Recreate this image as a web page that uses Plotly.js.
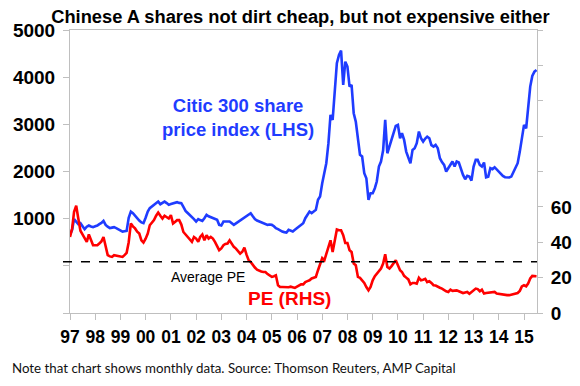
<!DOCTYPE html>
<html>
<head>
<meta charset="utf-8">
<script src="https://cdn.plot.ly/plotly-3.0.1.min.js"></script>
<style>html,body{margin:0;padding:0;background:#fff;}#chart{width:580px;height:386px;}</style>
</head>
<body>
<div id="chart"></div>
<script>
// Monthly data, Jan 1997 - Jul 2015
const startYear = 1997;
const citic300 = [
  657, 763, 990, 930, 884, 905, 840, 778, 830, 854, 835, 820,          // 1997
  840, 854, 884, 910, 954, 869, 830, 799, 810, 820, 800, 778,          // 1998
  760, 727, 735, 742, 1020, 1151, 1116, 1060, 1010, 960, 920, 905,     // 1999
  1020, 1151, 1222, 1260, 1293, 1330, 1362, 1307, 1330, 1362, 1330, 1293, // 2000
  1310, 1329, 1340, 1350, 1335, 1329, 1250, 1165, 1120, 1081, 1045, 990,  // 2001
  939, 990, 970, 954, 1010, 1081, 1050, 1030, 1010, 990, 975, 869,     // 2002
  854, 939, 945, 940, 939, 900, 869, 900, 930, 960, 990, 1020,         // 2003
  1045, 1080, 1116, 1050, 990, 960, 939, 920, 905, 885, 869, 875,      // 2004
  869, 840, 799, 780, 750, 727, 715, 706, 763, 740, 727, 763,          // 2005
  800, 833, 870, 905, 1010, 1080, 1151, 1116, 1150, 1187, 1399, 1469,  // 2006
  1752, 1964, 2176, 2600, 3200, 3094, 3729, 4295, 4471, 4562, 3835, 4329, // 2007
  4223, 3800, 3835, 3236, 3058, 2740, 2352, 2317, 1964, 1858, 1399, 1540, // 2008
  1540, 1646, 1787, 2105, 2211, 2450, 3094, 2387, 2528, 2700, 2846, 2966, // 2009
  2988, 2706, 2811, 2670, 2422, 2300, 2176, 2458, 2494, 2599, 2846, 2706, // 2010
  2635, 2700, 2740, 2706, 2560, 2528, 2564, 2494, 2282, 2200, 2140, 1999, // 2011
  2080, 2150, 2211, 2105, 2211, 2190, 2034, 1928, 1837, 1907, 1892, 1807, // 2012
  2105, 2246, 2246, 2140, 2105, 2190, 1879, 1892, 2070, 2049, 2091, 2040, // 2013
  1999, 1950, 1907, 1879, 1875, 1872, 1892, 1999, 2070, 2176, 2422, 2670, // 2014
  2988, 2917, 3400, 3800, 4026, 4117, 4153                              // 2015
];
const peRatio = [
  43.0, 47.8, 57.2, 60.6, 53.4, 46.5, 44.4, 42.0, 40.2, 44.4, 41.1, 38.3, // 1997
  38.3, 38.3, 39.3, 40.5, 43.0, 37.4, 32.7, 32.0, 31.7, 32.7, 32.5, 32.2, // 1998
  31.9, 31.7, 32.7, 34.0, 40.0, 50.6, 49.0, 47.8, 46.0, 44.9, 41.1, 39.8, // 1999
  42.0, 44.9, 49.6, 51.0, 52.5, 55.0, 56.8, 55.0, 53.4, 55.0, 54.0, 53.4, // 2000
  55.3, 50.6, 51.5, 52.5, 52.5, 50.0, 45.8, 44.4, 43.0, 42.1, 40.2, 43.0, // 2001
  42.1, 40.2, 43.0, 44.4, 41.1, 44.0, 42.1, 43.0, 42.1, 40.2, 37.4, 35.5, // 2002
  36.5, 38.3, 39.0, 39.3, 41.1, 39.0, 37.4, 36.4, 35.0, 33.6, 34.6, 37.0, // 2003
  33.0, 29.8, 28.9, 27.0, 25.7, 24.5, 23.8, 23.5, 23.2, 23.2, 22.0, 21.3, // 2004
  20.4, 20.8, 21.3, 15.7, 14.7, 14.7, 14.6, 14.4, 14.6, 14.9, 14.5, 14.2, // 2005
  14.9, 15.5, 16.2, 16.2, 17.5, 18.0, 18.5, 19.5, 20.0, 20.4, 24.2, 28.0, // 2006
  31.0, 29.8, 33.6, 38.0, 41.1, 34.5, 41.1, 47.2, 46.8, 46.8, 44.0, 39.6, // 2007
  39.6, 35.5, 34.5, 28.0, 27.0, 20.4, 19.9, 18.5, 17.0, 14.7, 12.8, 14.7, // 2008
  18.5, 20.8, 22.0, 23.2, 25.1, 28.0, 33.2, 26.0, 25.1, 26.5, 28.0, 29.8, // 2009
  27.0, 24.2, 23.2, 21.0, 20.0, 19.0, 16.2, 17.0, 17.0, 16.6, 19.9, 18.5, // 2010
  18.8, 19.3, 17.5, 18.0, 17.0, 15.7, 15.5, 15.1, 14.3, 13.8, 12.8, 12.3, // 2011
  11.9, 13.2, 12.5, 12.5, 12.8, 12.3, 11.9, 11.3, 11.6, 11.9, 10.9, 11.8, // 2012
  12.8, 13.8, 13.5, 12.3, 13.2, 11.0, 11.3, 11.5, 11.3, 11.6, 11.9, 11.0, // 2013
  10.8, 10.4, 10.2, 10.1, 10.1, 10.1, 10.4, 10.7, 11.0, 11.3, 12.5, 15.0, // 2014
  15.7, 15.1, 16.6, 19.5, 21.0, 21.0, 20.8                                // 2015
];
const averagePE = 29;
const leftTickVals = [-1000, 0, 1000, 2000, 3000, 4000, 5000];
const leftTickText = ['', '', '1000', '2000', '3000', '4000', '5000'];
const rightTickVals = [0, 20, 40, 60, 80, 100, 120, 140, 160];
const rightTickText = ['0', '20', '40', '60', '', '', '', '', ''];

const months = citic300.map((_, i) => {
  const y = startYear + Math.floor(i / 12);
  const m = (i % 12) + 1;
  return y + '-' + (m < 10 ? '0' + m : m) + '-01';
});

const BLUE = '#1f3cff';
const RED = '#ff0000';
const AXIS = '#bfbfbf';
const FONT = 'Liberation Sans, Arial, sans-serif';

const traces = [
  {x: months, y: citic300, type: 'scatter', mode: 'lines', yaxis: 'y',
   line: {color: BLUE, width: 2.6}, hoverinfo: 'skip'},
  {x: months, y: peRatio, type: 'scatter', mode: 'lines', yaxis: 'y2',
   line: {color: RED, width: 2.6}, hoverinfo: 'skip'}
];

const layout = {
  width: 580, height: 386,
  margin: {l: 70, r: 43, t: 30, b: 73},
  paper_bgcolor: '#fff', plot_bgcolor: '#fff',
  showlegend: false,
  title: {text: 'Chinese A shares not dirt cheap, but not expensive either',
          x: 0.518, xanchor: 'center', y: 0.957, yanchor: 'middle', yref: 'container', xref: 'container',
          font: {family: FONT, size: 18.3, weight: 'bold', color: '#000'}},
  xaxis: {type: 'date', range: ['1997-01-01', '2015-07-08'],
          tick0: '1997-01-01', dtick: 'M12', tickformat: '%y',
          ticks: 'outside', ticklen: 6, tickcolor: AXIS, tickwidth: 1,
          showline: true, linecolor: AXIS, linewidth: 1, mirror: true,
          showgrid: false, zeroline: false, automargin: false,
          ticklabelstandoff: 2,
          tickfont: {family: FONT, size: 17.5, weight: 'bold', color: '#000'}},
  yaxis: {range: [-1000, 5000], tickmode: 'array', tickvals: leftTickVals, ticktext: leftTickText,
          ticks: 'outside', ticklen: 6, tickcolor: AXIS, tickwidth: 1,
          showline: true, linecolor: AXIS, linewidth: 1,
          showgrid: false, zeroline: false, automargin: false,
          ticklabelstandoff: 4,
          tickfont: {family: FONT, size: 19, weight: 'bold', color: '#000'}},
  yaxis2: {range: [0, 160], overlaying: 'y', side: 'right', tickmode: 'array',
           tickvals: rightTickVals, ticktext: rightTickText,
           ticks: 'outside', ticklen: 5, tickcolor: AXIS, tickwidth: 1,
           showline: true, linecolor: AXIS, linewidth: 1,
           showgrid: false, zeroline: false, automargin: false,
           ticklabelstandoff: 4,
           tickfont: {family: FONT, size: 19, weight: 'bold', color: '#000'}},
  shapes: [
    {type: 'line', xref: 'paper', yref: 'y2', x0: -0.015, x1: 1, y0: averagePE, y1: averagePE,
     line: {color: '#000', width: 1.5, dash: 'dash'}}
  ],
  annotations: [
    {text: 'Citic 300 share<br>price index (LHS)', xref: 'paper', yref: 'paper',
     x: (238 - 70) / 466.7, y: 1 - (117 - 30) / 282.7, xanchor: 'center', yanchor: 'middle',
     showarrow: false, align: 'center',
     font: {family: FONT, size: 18.5, weight: 'bold', color: BLUE}},
    {text: 'Average PE', xref: 'paper', yref: 'paper',
     x: (208 - 70) / 466.7, y: 1 - (277 - 30) / 282.7, xanchor: 'center', yanchor: 'middle',
     showarrow: false, font: {family: FONT, size: 14, color: '#000'}},
    {text: 'PE (RHS)', xref: 'paper', yref: 'paper',
     x: (289 - 70) / 466.7, y: 1 - (298 - 30) / 282.7, xanchor: 'center', yanchor: 'middle',
     showarrow: false, font: {family: FONT, size: 19, weight: 'bold', color: RED}},
    {text: 'Note that chart shows monthly data. Source: Thomson Reuters, AMP Capital',
     xref: 'paper', yref: 'paper', x: -60 / 466.7, y: 1 - (368 - 30) / 282.7,
     xanchor: 'left', yanchor: 'middle', showarrow: false,
     font: {family: 'Lato, Noto Sans, sans-serif', size: 13.3, color: '#111'}}
  ]
};

Plotly.newPlot('chart', traces, layout, {staticPlot: true, displayModeBar: false});
</script>
</body>
</html>
